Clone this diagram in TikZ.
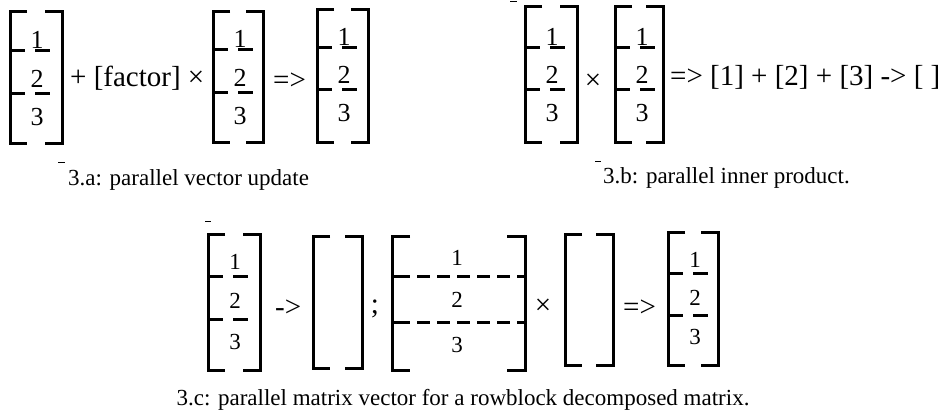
\documentclass[tikz,border=0pt]{standalone}
\usepackage{fontspec}
\setmainfont{Liberation Serif}
\tikzset{
  x=1pt, y=-1pt,
  brk/.style={line width=3pt, line cap=butt, line join=miter},
  dvd/.style={line width=3pt, line cap=butt},
  mdvd/.style={line width=3pt, dash pattern=on 13pt off 7pt},
  digA/.style={inner sep=0pt, font=\fontsize{26}{26}\selectfont},
  digC/.style={inner sep=0pt, font=\fontsize{23}{23}\selectfont},
  optxt/.style={inner sep=0pt, font=\fontsize{29}{29}\selectfont},
  captxt/.style={inner sep=0pt, font=\fontsize{23}{23}\selectfont},
  stray/.style={line width=1pt},
}
% brackets: l r t b serif
\newcommand\mybr[5]{%
  \draw[brk] ({#1+#5},#3) -- (#1,#3) -- (#1,#4) -- ({#1+#5},#4);
  \draw[brk] ({#2-#5},#3) -- (#2,#3) -- (#2,#4) -- ({#2-#5},#4);
}
% vector: name l r t b d1 d2 digitstyle ; offsets in \oa \ob \oc
\newcommand\myvec[8]{%
  \mybr{#2}{#3}{#4}{#5}{17}
  \draw[dvd] (#2,#6) -- ({#2+15},#6) ({#2+25},#6) -- ({#2+40},#6);
  \draw[dvd] (#2,#7) -- ({#2+15},#7) ({#2+25},#7) -- ({#2+40},#7);
  \node[#8] (#1a) at ({#2+27},{#6+\oa}) {1};
  \node[#8] (#1b) at ({#2+27},{#7+\ob}) {2};
  \node[#8] (#1c) at ({#2+27},{#7+\oc}) {3};
}
\begin{document}
\begin{tikzpicture}
\useasboundingbox[fill=white] (0,0) rectangle (939,419);
% ---------- 3.a ----------
\def\oa{-11}\def\ob{-15}\def\oc{23}
\myvec{av1}{10}{62}{12}{144}{51}{94}{digA}
\node[optxt, anchor=west] (aplus) at (70,78.5) {+ [factor] ×};
\myvec{av2}{213}{263}{12}{143}{50}{93}{digA}
\node[optxt, anchor=west] (aimp) at (273,81) {=>};
\myvec{av3}{317}{368}{10}{143}{48}{90}{digA}
\draw[stray] (58,163) -- (65,163);
\node[captxt, anchor=base west] (acap) at (68,186) {3.a: parallel vector update};
% ---------- 3.b ----------
\myvec{bv1}{525}{577}{7}{143}{48}{90}{digA}
\node[optxt] (btimes) at (593,82) {×};
\myvec{bv2}{615}{663}{7}{143}{48}{90}{digA}
\node[optxt, anchor=west] (bsum) at (670,77) {=> [1] + [2] + [3] -> [ ]};
\draw[stray] (510,2) -- (517,2);
\draw[stray] (595,162) -- (601,162);
\node[captxt, anchor=base west] (bcap) at (603,184) {3.b: parallel inner product.};
% ---------- 3.c ----------
\def\oa{-15}\def\ob{-19}\def\oc{22}
\myvec{cv1}{208}{260}{235}{370}{277}{320}{digC}
\node[optxt, anchor=west] (cto) at (275,308) {->};
\mybr{313}{362}{237}{368}{17}
\node[optxt] (csemi) at (375,309) {;};
% matrix
\mybr{392}{525}{237}{370}{18}
\draw[mdvd] (397,277) -- (525,277);
\draw[mdvd] (397,323) -- (525,323);
\draw[dvd] (392,277) -- (397,277) (392,323) -- (397,323);
\node[digC] (cm1) at (457,258) {1};
\node[digC] (cm2) at (457,300) {2};
\node[digC] (cm3) at (457,345) {3};
\node[optxt] (ctimes) at (543,307) {×};
\mybr{565}{613}{235}{365}{17}
\node[optxt, anchor=west] (cimp) at (623,308) {=>};
\def\oa{-14}\def\ob{-18}\def\oc{21}
\myvec{cv3}{668}{718}{233}{365}{274}{316}{digC}
\draw[stray] (205,222) -- (211,222);
\node[captxt, anchor=base] (ccap) at (463,405) {3.c: parallel matrix vector for a rowblock decomposed matrix.};
\end{tikzpicture}
\end{document}
